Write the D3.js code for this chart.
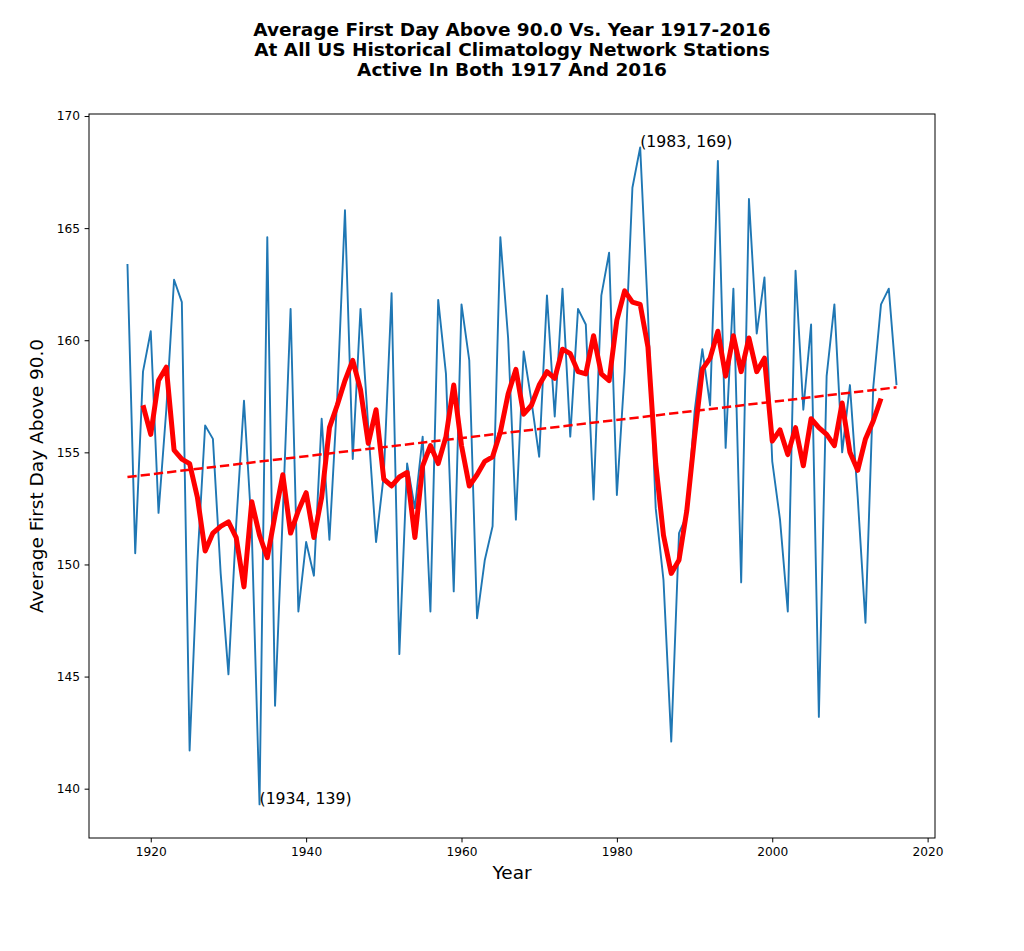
<!DOCTYPE html>
<html lang="en">
  <head>
    <meta charset="UTF-8" />
    <title>Average First Day Above 90.0</title>
    <style>
      body {
        margin: 0;
        background: #fff;
        font-family: "DejaVu Sans", sans-serif;
      }
      .title text {
        font-size: 18.5px;
        font-weight: bold;
        text-anchor: middle;
      }
      .axis text {
        font-size: 12.2px;
        fill: #000;
      }
      .axis line {
        stroke: #000;
      }
      .label {
        font-size: 18.5px;
        text-anchor: middle;
      }
      .note {
        font-size: 15.7px;
      }
    </style>
  </head>
  <body>
    <svg width="1024" height="951"></svg>
  </body>
  <script src="https://cdn.jsdelivr.net/npm/d3@7"></script>
  <script>
    const titleLines = [
      "Average First Day Above 90.0 Vs. Year 1917-2016",
      "At All US Historical Climatology Network Stations",
      "Active In Both 1917 And 2016",
    ];

    const years = [
      1917, 1918, 1919, 1920, 1921, 1922, 1923, 1924, 1925, 1926,
      1927, 1928, 1929, 1930, 1931, 1932, 1933, 1934, 1935, 1936,
      1937, 1938, 1939, 1940, 1941, 1942, 1943, 1944, 1945, 1946,
      1947, 1948, 1949, 1950, 1951, 1952, 1953, 1954, 1955, 1956,
      1957, 1958, 1959, 1960, 1961, 1962, 1963, 1964, 1965, 1966,
      1967, 1968, 1969, 1970, 1971, 1972, 1973, 1974, 1975, 1976,
      1977, 1978, 1979, 1980, 1981, 1982, 1983, 1984, 1985, 1986,
      1987, 1988, 1989, 1990, 1991, 1992, 1993, 1994, 1995, 1996,
      1997, 1998, 1999, 2000, 2001, 2002, 2003, 2004, 2005, 2006,
      2007, 2008, 2009, 2010, 2011, 2012, 2013, 2014, 2015, 2016,
    ];

    // average first day above 90F, one value per year
    const firstDay = [
      163.4, 150.5, 158.6, 160.4, 152.3, 156.9, 162.7, 161.7, 141.7, 150.1,
      156.2, 155.6, 149.6, 145.1, 151.8, 157.3, 151.5, 139.3, 164.6, 143.7,
      152.3, 161.4, 147.9, 151.0, 149.5, 156.5, 151.1, 157.4, 165.8, 154.7,
      161.4, 156.1, 151.0, 154.0, 162.1, 146.0, 154.5, 152.5, 155.7, 147.9,
      161.8, 158.5, 148.8, 161.6, 159.1, 147.6, 150.2, 151.7, 164.6, 160.1,
      152.0, 159.5, 157.3, 154.8, 162.0, 156.6, 162.3, 155.7, 161.4, 160.7,
      152.9, 162.0, 163.9, 153.1, 158.6, 166.8, 168.6, 161.2, 152.5, 149.3,
      142.1, 151.4, 152.2, 156.8, 159.6, 157.1, 168.0, 155.2, 162.3, 149.2,
      166.3, 160.3, 162.8, 154.6, 152.0, 147.9, 163.1, 156.9, 160.7, 143.2,
      158.4, 161.6, 155.0, 158.0, 153.0, 147.4, 157.9, 161.6, 162.3, 158.0,
    ];

    // five year running mean, 1919-2014
    const meanYears = years.slice(2, 98);
    const runningMean = [
      157.1, 155.8, 158.2, 158.8, 155.1, 154.7, 154.5, 153.0,
      150.6, 151.4, 151.7, 151.9, 151.2, 149.0, 152.8, 151.3, 150.3, 152.2,
      154.0, 151.4, 152.4, 153.2, 151.2, 153.0, 156.1, 157.1, 158.2, 159.1,
      157.8, 155.4, 156.9, 153.8, 153.5, 153.9, 154.1, 151.2, 154.4, 155.3,
      154.5, 155.7, 158.0, 155.3, 153.5, 154.0, 154.6, 154.8, 155.9, 157.6,
      158.7, 156.7, 157.1, 158.0, 158.6, 158.3, 159.6, 159.4, 158.6, 158.5,
      160.2, 158.5, 158.2, 160.9, 162.2, 161.7, 161.6, 159.7, 154.5, 151.3,
      149.6, 150.2, 152.4, 155.7, 158.7, 159.2, 160.4, 158.4, 160.2, 158.6,
      160.1, 158.6, 159.2, 155.5, 156.0, 154.9, 156.1, 154.4, 156.5, 156.1,
      155.8, 155.3, 157.2, 155.0, 154.2, 155.6, 156.4, 157.4,
    ];

    // linear trend end points
    const trendYears = [1917, 2016];
    const trendValues = [153.9, 157.9];

    // annotated extremes
    const noteYears = [1934, 1983];

    const xTicks = [1920, 1940, 1960, 1980, 2000, 2020];
    const yTicks = [140, 145, 150, 155, 160, 165, 170];

    const marginLeft = 89, marginTop = 114, plotW = 846, plotH = 724;

    const svg = d3.select("svg");

    svg.append("g")
      .attr("class", "title")
      .selectAll("text")
      .data(titleLines)
      .join("text")
      .attr("x", 512)
      .attr("y", (_, i) => 36 + i * 20)
      .text((d) => d);

    const x = d3.scaleLinear().domain([1912.05, 2020.95]).range([0, plotW]);
    const y = d3.scaleLinear().domain([137.8, 170.09]).range([plotH, 0]);

    const g = svg.append("g").attr("transform", `translate(${marginLeft},${marginTop})`);

    const line = d3.line()
      .x((d) => x(d[0]))
      .y((d) => y(d[1]));

    g.append("path")
      .datum(years.map((yr, i) => [yr, firstDay[i]]))
      .attr("d", line)
      .attr("fill", "none")
      .attr("stroke", "#1f77b4")
      .attr("stroke-width", 1.9)
      .attr("stroke-linejoin", "round");

    g.append("path")
      .datum(trendYears.map((yr, i) => [yr, trendValues[i]]))
      .attr("d", line)
      .attr("fill", "none")
      .attr("stroke", "red")
      .attr("stroke-width", 2.5)
      .attr("stroke-dasharray", "9.3,4");

    g.append("path")
      .datum(meanYears.map((yr, i) => [yr, runningMean[i]]))
      .attr("d", line)
      .attr("fill", "none")
      .attr("stroke", "red")
      .attr("stroke-width", 5)
      .attr("stroke-linejoin", "round");

    g.selectAll(".note")
      .data(noteYears)
      .join("text")
      .attr("class", "note")
      .attr("x", (d) => x(d))
      .attr("y", (d) => y(firstDay[years.indexOf(d)]))
      .text((d) => `(${d}, ${Math.round(firstDay[years.indexOf(d)])})`);

    // frame
    g.append("rect")
      .attr("width", plotW)
      .attr("height", plotH)
      .attr("fill", "none")
      .attr("stroke", "#000")
      .attr("stroke-width", 1);

    const xAxis = g.append("g")
      .attr("class", "axis")
      .attr("transform", `translate(0,${plotH})`)
      .call(d3.axisBottom(x).tickValues(xTicks).tickFormat(d3.format("d"))
        .tickSize(4.4).tickPadding(4.6));
    xAxis.select(".domain").remove();
    xAxis.selectAll("text").attr("font-family", "DejaVu Sans").attr("font-size", 12.2);

    const yAxis = g.append("g")
      .attr("class", "axis")
      .call(d3.axisLeft(y).tickValues(yTicks).tickSize(4.4).tickPadding(4.6));
    yAxis.select(".domain").remove();
    yAxis.selectAll("text").attr("font-family", "DejaVu Sans").attr("font-size", 12.2);

    svg.append("text")
      .attr("class", "label")
      .attr("x", marginLeft + plotW / 2)
      .attr("y", 879)
      .text("Year");

    svg.append("text")
      .attr("class", "label")
      .attr("transform", `translate(43,${marginTop + plotH / 2}) rotate(-90)`)
      .text("Average First Day Above 90.0");
  </script>
</html>
